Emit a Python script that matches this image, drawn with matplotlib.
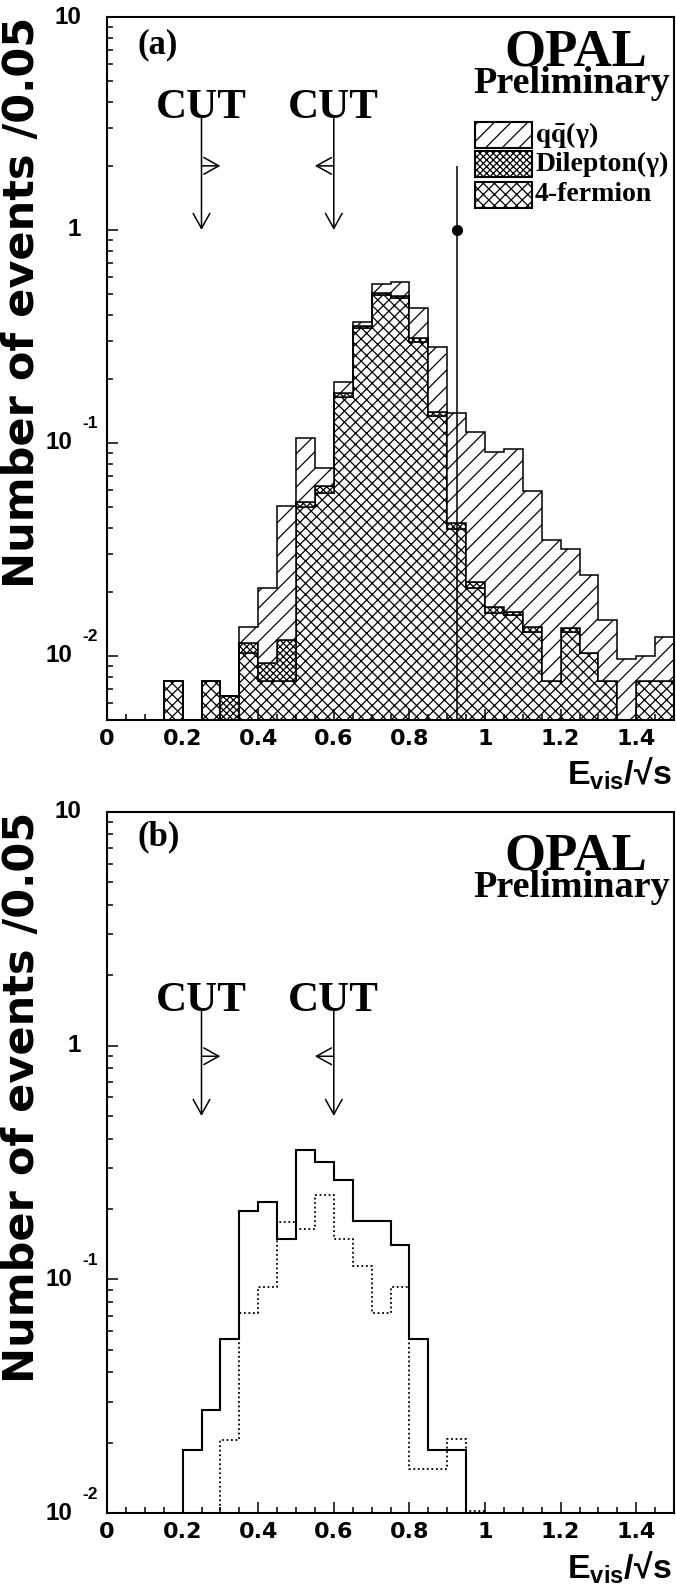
import numpy as np
import matplotlib.pyplot as plt
from matplotlib.patches import Rectangle
from matplotlib.ticker import FixedLocator, LogLocator, NullFormatter

plt.rcParams['hatch.linewidth'] = 0.9
plt.rcParams['mathtext.fontset'] = 'custom'
plt.rcParams['mathtext.bf'] = 'Liberation Sans:bold'
plt.rcParams['mathtext.rm'] = 'Liberation Sans:bold'
plt.rcParams['mathtext.it'] = 'Liberation Sans:bold'

# 30 bins of 0.05 in E_vis/sqrt(s)
bin_edges = np.linspace(0.0, 1.5, 31)

# panel (a): stack tops per bin (4-fermion, +dilepton, +qq)
stack_4f = [0, 0, 0, 0.0076, 0, 0.0076, 0, 0.0103, 0.0076, 0.0076,
            0.0502, 0.0581, 0.165, 0.345, 0.495, 0.481, 0.299, 0.134, 0.0395, 0.0208,
            0.0159, 0.0155, 0.0130, 0.0076, 0.0130, 0.0103, 0.0076, 0, 0.0076, 0.0076]
stack_dilep = [0, 0, 0, 0.0076, 0, 0.0076, 0.0065, 0.0115, 0.0093, 0.0119,
               0.0526, 0.0629, 0.171, 0.354, 0.504, 0.490, 0.310, 0.139, 0.0422, 0.0222,
               0.0170, 0.0160, 0.0136, 0.0076, 0.0135, 0.0103, 0.0076, 0, 0.0076, 0.0076]
stack_qq = [0, 0, 0, 0.0076, 0, 0.0076, 0.0065, 0.0137, 0.0208, 0.0508,
            0.106, 0.0763, 0.193, 0.371, 0.556, 0.568, 0.429, 0.283, 0.138, 0.112,
            0.0907, 0.0937, 0.0595, 0.0351, 0.0317, 0.024, 0.0148, 0.00965, 0.0100, 0.0122]

# the one data event
data_x = [0.925]
data_y = [1.0]
data_err = [1.0]

# panel (b): two signal shapes
solid_b = [0, 0, 0, 0, 0.0186, 0.0277, 0.0557, 0.196, 0.214, 0.149,
           0.356, 0.317, 0.265, 0.177, 0.177, 0.140, 0.0557, 0.0186, 0.0186, 0,
           0, 0, 0, 0, 0, 0, 0, 0, 0, 0]
dotted_b = [0, 0, 0, 0, 0, 0, 0.0206, 0.0721, 0.0927, 0.176,
            0.164, 0.229, 0.149, 0.114, 0.0721, 0.0927, 0.0154, 0.0154, 0.0207, 0.0102,
            0, 0, 0, 0, 0, 0, 0, 0, 0, 0]

legend_labels = [r'$\mathbf{q\bar{q}}$(γ)', 'Dilepton(γ)', '4-fermion']
legend_hatches = ['//', 'xxxxx', 'xxx']

# cut positions and arrows (top of arrow, side arrow, tip)
cut_x = [0.25, 0.6]
cut_side = [0.30, 0.55]
cut_y_a = [3.36, 2.0, 1.0]
cut_y_b = [1.41, 0.9, 0.5]

xtick_vals = [0, 0.2, 0.4, 0.6, 0.8, 1.0, 1.2, 1.4]
xtick_labels = ['0', '0.2', '0.4', '0.6', '0.8', '1', '1.2', '1.4']
ytick_vals = [0.01, 0.1, 1, 10]
ytick_base = ['10', '10', '1', '10']
ytick_exp = ['-2', '-1', '', '']

FLOOR = 1e-5
SANS = 'Liberation Sans'
SERIF = 'Liberation Serif'


def pos(vals):
    v = np.asarray(vals, dtype=float)
    return np.where(v > 0, v, FLOOR)


def setup_axes(ax, ymin, label, opal_y, prelim_y, label_y, cut_y):
    ax.set_xlim(0, 1.5)
    ax.set_yscale('log')
    ax.set_ylim(ymin, 10)
    for s in ax.spines.values():
        s.set_linewidth(1.5)

    ax.xaxis.set_major_locator(FixedLocator(xtick_vals))
    ax.xaxis.set_minor_locator(FixedLocator(np.round(np.arange(0, 1.5001, 0.05), 2)))
    ax.set_xticklabels(xtick_labels, fontsize=16, fontweight='bold', family='DejaVu Sans')
    ax.yaxis.set_major_locator(FixedLocator(ytick_vals))
    ax.yaxis.set_minor_locator(LogLocator(base=10, subs=range(2, 10)))
    ax.yaxis.set_major_formatter(NullFormatter())
    ax.yaxis.set_minor_formatter(NullFormatter())
    ax.tick_params(which='major', direction='in', length=8, width=1.1, pad=6.5,
                   top=False, right=False)
    ax.tick_params(which='minor', direction='in', length=4.5, width=1.1,
                   top=False, right=False)

    # ROOT style log labels
    for v, base, ex in zip(ytick_vals, ytick_base, ytick_exp):
        if v < ymin:
            continue
        if ex:
            ax.annotate(base, xy=(0, v), xycoords=('axes fraction', 'data'),
                        xytext=(-35, 0), textcoords='offset pixels', ha='right', va='center',
                        fontsize=17.5, fontweight='bold', family=SANS, annotation_clip=False)
            ax.annotate(ex, xy=(0, v), xycoords=('axes fraction', 'data'),
                        xytext=(-9, 19), textcoords='offset pixels', ha='right', va='center',
                        fontsize=12.5, fontweight='bold', family=SANS, annotation_clip=False)
        else:
            ax.annotate(base, xy=(0, v), xycoords=('axes fraction', 'data'),
                        xytext=(-26, 0), textcoords='offset pixels', ha='right', va='center',
                        fontsize=17.5, fontweight='bold', family=SANS, annotation_clip=False)

    ax.text(-73 / 567, 1.0, 'Number of events /0.05', transform=ax.transAxes,
            rotation=90, rotation_mode='anchor', ha='right', va='baseline',
            fontsize=31, fontweight='bold', family='DejaVu Sans')
    ax.text(0.996, -65 / 703, r'$\mathbf{E_{vis}/√s}$', transform=ax.transAxes,
            ha='right', va='baseline', fontsize=24.5)

    ax.text(0.053, label_y, label, transform=ax.transAxes, ha='left', va='baseline',
            fontsize=25, fontweight='bold', family=SERIF)
    ax.text(0.827, opal_y, 'OPAL', transform=ax.transAxes, ha='center', va='baseline',
            fontsize=38, fontweight='bold', family=SERIF)
    ax.text(0.819, prelim_y, 'Preliminary', transform=ax.transAxes, ha='center',
            va='baseline', fontsize=27.5, fontweight='bold', family=SERIF)

    # cut markers
    top, side, tip = cut_y
    for x, xs in zip(cut_x, cut_side):
        ax.text(x, top, 'CUT', ha='center', va='baseline', fontsize=31,
                fontweight='bold', family=SERIF)
        ax.annotate('', xy=(x, tip), xytext=(x, top),
                    arrowprops=dict(arrowstyle='->,head_length=1.08,head_width=0.6',
                                    lw=1.1, color='black', shrinkA=0, shrinkB=0))
        ax.annotate('', xy=(xs, side), xytext=(x, side),
                    arrowprops=dict(arrowstyle='->,head_length=1.08,head_width=0.6',
                                    lw=1.1, color='black', shrinkA=0, shrinkB=0))


fig = plt.figure(figsize=(6.76, 15.95), dpi=100)
ax_a = fig.add_axes([107 / 676, (1595 - 720) / 1595, 567 / 676, 703 / 1595])
ax_b = fig.add_axes([107 / 676, (1595 - 1513.3) / 1595, 567 / 676, 701.6 / 1595])

# ---- panel (a): stacked backgrounds + data
h4 = pos(stack_4f)
hd = pos(stack_dilep)
hq = pos(stack_qq)
ax_a.stairs(h4, bin_edges, baseline=FLOOR, fill=True, facecolor='white',
            edgecolor='black', hatch=legend_hatches[2], lw=1.1)
ax_a.stairs(hd, bin_edges, baseline=h4, fill=True, facecolor='white',
            edgecolor='black', hatch=legend_hatches[1], lw=1.1)
ax_a.stairs(hq, bin_edges, baseline=hd, fill=True, facecolor='white',
            edgecolor='black', hatch=legend_hatches[0], lw=1.1)
ax_a.errorbar(data_x, data_y, yerr=[data_err, data_err], fmt='o', color='black',
              ms=7, elinewidth=1.1, capsize=0, zorder=5)

setup_axes(ax_a, 0.005, '(a)', 0.9317, 0.8915, 0.9488, cut_y_a)

# legend boxes
box_bottoms = [0.8137, 0.7724, 0.7283]
for lab, hatch, yb in zip(legend_labels, legend_hatches, box_bottoms):
    ax_a.add_patch(Rectangle((0.649, yb), 0.1005, 0.037, transform=ax_a.transAxes,
                             facecolor='white', edgecolor='black', hatch=hatch,
                             lw=1.5, zorder=6))
    ax_a.text(0.755, yb + 0.0185, lab, transform=ax_a.transAxes, ha='left', va='center',
              fontsize=20, fontweight='bold', family=SERIF, math_fontfamily='stix',
              zorder=6)

# ---- panel (b)
ax_b.stairs(pos(solid_b), bin_edges, baseline=FLOOR, color='black', lw=1.5)
ax_b.stairs(pos(dotted_b), bin_edges, baseline=FLOOR, color='black', lw=1.3,
            linestyle=(0, (1, 1.5)))

setup_axes(ax_b, 0.01, '(b)', 0.917, 0.879, 0.9525, cut_y_b)

fig.savefig('out.png', dpi=100)
